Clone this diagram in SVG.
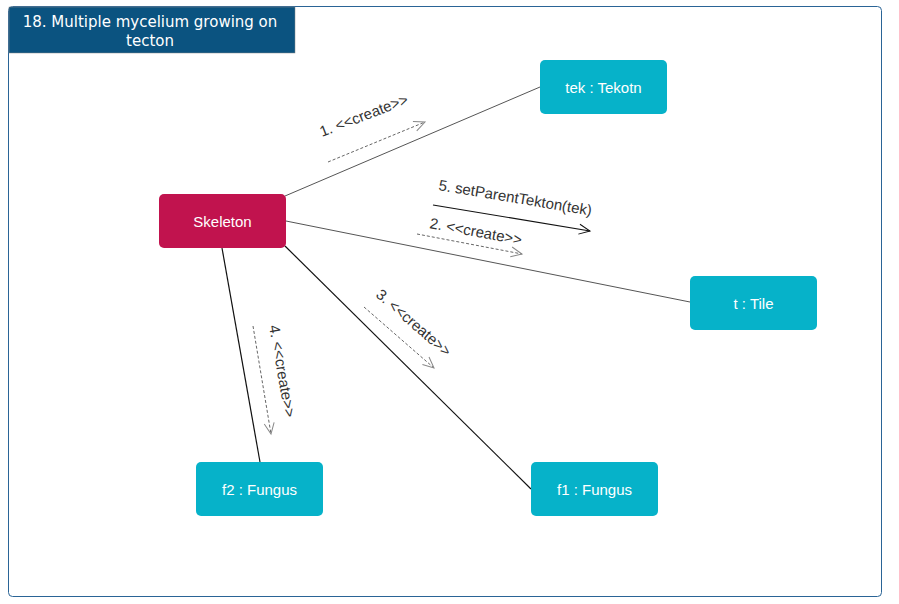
<svg xmlns="http://www.w3.org/2000/svg" width="899" height="604" viewBox="0 0 899 604">
<style>
.node rect{stroke:none}
.cyan{fill:#06b2c9}
.ntext{font-family:"Liberation Sans",Arial,sans-serif;font-size:15px;fill:#ffffff;text-anchor:middle;dominant-baseline:central}
.link{stroke:#555;stroke-width:1;fill:none}
.blink{stroke:#111;stroke-width:1.2;fill:none}
.msg{stroke:#666;stroke-width:1;stroke-dasharray:3,2;fill:none}
.msgs{stroke:#111;stroke-width:1.2;fill:none}
.lbl{font-family:"Liberation Sans",Arial,sans-serif;font-size:15px;fill:#333}
</style>
<defs>
<marker id="ag" markerWidth="14" markerHeight="12" refX="12" refY="6" orient="auto" markerUnits="userSpaceOnUse">
<path d="M1,1 L12,6 L1,11" fill="none" stroke="#888" stroke-width="1"/>
</marker>
<marker id="ab" markerWidth="14" markerHeight="12" refX="12" refY="6" orient="auto" markerUnits="userSpaceOnUse">
<path d="M1,1 L12,6 L1,11" fill="none" stroke="#111" stroke-width="1"/>
</marker>
</defs>
<rect x="0" y="0" width="899" height="604" fill="#ffffff"/>
<rect x="8.5" y="6.5" width="873" height="590" rx="4" fill="#ffffff" stroke="#2a6496" stroke-width="1"/>
<g id="title">
<rect x="9" y="7" width="286" height="46" fill="#0b5380" stroke="#888" stroke-width="0.5"/>
<text x="150" y="27" font-family="'DejaVu Sans',Verdana,sans-serif" font-size="15" fill="#ffffff" text-anchor="middle">18. Multiple mycelium growing on</text>
<text x="150" y="46" font-family="'DejaVu Sans',Verdana,sans-serif" font-size="15" fill="#ffffff" text-anchor="middle">tecton</text>
</g>
<g id="connectors">
<line class="link" x1="285" y1="196" x2="540" y2="87"/>
<line class="link" x1="286" y1="221" x2="690" y2="302"/>
<line class="blink" x1="285" y1="246" x2="531" y2="489"/>
<line class="blink" x1="222" y1="248" x2="260" y2="462"/>
<line class="msg" x1="328" y1="162" x2="425" y2="122" marker-end="url(#ag)"/>
<text class="lbl" transform="translate(322,137) rotate(-21)">1. &lt;&lt;create&gt;&gt;</text>
<line class="msgs" x1="433" y1="205" x2="590" y2="231" marker-end="url(#ab)"/>
<text class="lbl" transform="translate(438,190) rotate(9.5)">5. setParentTekton(tek)</text>
<line class="msg" x1="417" y1="234" x2="522" y2="254" marker-end="url(#ag)"/>
<text class="lbl" transform="translate(429,228) rotate(10.5)">2. &lt;&lt;create&gt;&gt;</text>
<line class="msg" x1="364" y1="307" x2="434" y2="368" marker-end="url(#ag)"/>
<text class="lbl" transform="translate(375,296) rotate(41)">3. &lt;&lt;create&gt;&gt;</text>
<line class="msg" x1="253" y1="326" x2="271" y2="434" marker-end="url(#ag)"/>
<text class="lbl" transform="translate(269,326) rotate(80)">4. &lt;&lt;create&gt;&gt;</text>
</g>
<g id="skeleton" class="node">
<rect x="159" y="194" width="127" height="54" rx="5" fill="#c1134e"/>
<text class="ntext" x="222.5" y="221">Skeleton</text>
</g>
<g id="tek" class="node">
<rect class="cyan" x="540" y="60" width="127" height="54" rx="5"/>
<text class="ntext" x="603.5" y="87">tek : Tekotn</text>
</g>
<g id="tile" class="node">
<rect class="cyan" x="690" y="276" width="127" height="54" rx="5"/>
<text class="ntext" x="753.5" y="303">t : Tile</text>
</g>
<g id="f2" class="node">
<rect class="cyan" x="196" y="462" width="127" height="54" rx="5"/>
<text class="ntext" x="259.5" y="489">f2 : Fungus</text>
</g>
<g id="f1" class="node">
<rect class="cyan" x="531" y="462" width="127" height="54" rx="5"/>
<text class="ntext" x="594.5" y="489">f1 : Fungus</text>
</g>
</svg>
